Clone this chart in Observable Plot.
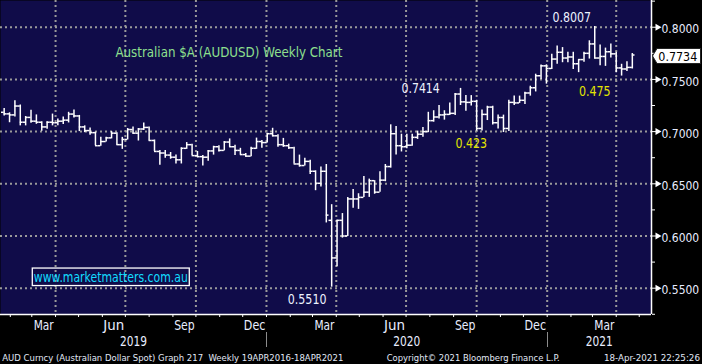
<!DOCTYPE html>
<html>
<head>
<meta charset="utf-8">
<script src="https://cdn.jsdelivr.net/npm/d3@7"></script>
<script src="https://cdn.jsdelivr.net/npm/@observablehq/plot@0.6"></script>
<style>
  html, body { margin: 0; padding: 0; background: #000; }
  #chart { width: 702px; height: 364px; overflow: hidden; }
  #chart svg { display: block; }
</style>
</head>
<body>
<div id="chart"></div>
<script>
// ---------- DATA (weekly OHLC, AUDUSD, week ending Friday) ----------
const firstWeekEnding = "2019-01-18";
const open = [
  0.7185,0.7170,0.7160,0.7245,0.7090,0.7136,0.7100,0.7090,0.7045,0.7090,
  0.7085,0.7100,0.7110,0.7168,0.7150,0.7045,0.7010,0.6990,0.6865,0.6905,
  0.6940,0.6985,0.6875,0.6925,0.7020,0.6985,0.7025,0.7040,0.6915,0.6810,
  0.6795,0.6775,0.6755,0.6730,0.6840,0.6875,0.6770,0.6760,0.6755,0.6815,
  0.6855,0.6820,0.6900,0.6855,0.6820,0.6780,0.6765,0.6840,0.6905,0.6895,
  0.6980,0.6960,0.6875,0.6865,0.6845,0.6690,0.6675,0.6715,0.6620,0.6505,
  0.6620,0.6150,0.5790,0.6150,0.6000,0.6355,0.6355,0.6370,0.6420,0.6530,
  0.6420,0.6535,0.6665,0.6980,0.6865,0.6855,0.6870,0.6945,0.6975,0.7000,
  0.7105,0.7140,0.7160,0.7165,0.7175,0.7360,0.7285,0.7280,0.7290,0.7030,
  0.7165,0.7235,0.7085,0.7135,0.7030,0.7280,0.7275,0.7300,0.7370,0.7420,
  0.7535,0.7630,0.7605,0.7695,0.7760,0.7705,0.7715,0.7650,0.7690,0.7750,
  0.7840,0.7705,0.7720,0.7765,0.7745,0.7610,0.7600,0.7615
];
const high = [
  0.7222,0.7180,0.7296,0.7255,0.7145,0.7205,0.7160,0.7095,0.7095,0.7168,
  0.7120,0.7140,0.7185,0.7206,0.7155,0.7055,0.7035,0.6995,0.6945,0.6945,
  0.7000,0.6990,0.6945,0.7030,0.7045,0.7030,0.7082,0.7045,0.6920,0.6820,
  0.6820,0.6800,0.6775,0.6845,0.6895,0.6880,0.6810,0.6770,0.6820,0.6860,
  0.6865,0.6905,0.6930,0.6870,0.6840,0.6790,0.6850,0.6938,0.6915,0.6985,
  0.7032,0.6970,0.6935,0.6880,0.6850,0.6775,0.6745,0.6725,0.6625,0.6660,
  0.6685,0.6300,0.6150,0.6215,0.6370,0.6445,0.6405,0.6570,0.6545,0.6530,
  0.6615,0.6685,0.7065,0.7050,0.6975,0.6975,0.6975,0.7005,0.7040,0.7185,
  0.7200,0.7250,0.7200,0.7275,0.7365,0.7414,0.7345,0.7345,0.7300,0.7208,
  0.7243,0.7243,0.7158,0.7158,0.7300,0.7340,0.7340,0.7377,0.7435,0.7550,
  0.7638,0.7640,0.7740,0.7820,0.7805,0.7760,0.7760,0.7690,0.7760,0.7870,
  0.8007,0.7830,0.7800,0.7840,0.7760,0.7645,0.7670,0.7748
];
const low = [
  0.7150,0.7085,0.7140,0.7055,0.7055,0.7080,0.7070,0.7003,0.7023,0.7055,
  0.7055,0.7068,0.7083,0.7130,0.7000,0.6990,0.6965,0.6865,0.6860,0.6900,
  0.6930,0.6870,0.6830,0.6920,0.6975,0.6910,0.7010,0.6910,0.6810,0.6677,
  0.6745,0.6735,0.6690,0.6690,0.6830,0.6770,0.6750,0.6671,0.6715,0.6775,
  0.6805,0.6815,0.6850,0.6770,0.6775,0.6755,0.6760,0.6830,0.6840,0.6890,
  0.6950,0.6850,0.6850,0.6830,0.6690,0.6660,0.6670,0.6590,0.6434,0.6470,
  0.6125,0.5510,0.5705,0.5980,0.5995,0.6265,0.6255,0.6370,0.6370,0.6400,
  0.6420,0.6520,0.6650,0.6775,0.6805,0.6835,0.6860,0.6925,0.6945,0.6990,
  0.7090,0.7120,0.7110,0.7155,0.7155,0.7250,0.7195,0.7245,0.7005,0.7005,
  0.7106,0.7063,0.7026,0.6991,0.7000,0.7250,0.7270,0.7260,0.7340,0.7380,
  0.7500,0.7455,0.7595,0.7645,0.7660,0.7660,0.7595,0.7565,0.7665,0.7695,
  0.7695,0.7630,0.7625,0.7705,0.7565,0.7532,0.7575,0.7600
];
const close = [
  0.7170,0.7160,0.7245,0.7090,0.7136,0.7100,0.7090,0.7045,0.7090,0.7085,
  0.7100,0.7110,0.7168,0.7150,0.7045,0.7010,0.6990,0.6865,0.6905,0.6940,
  0.6985,0.6875,0.6925,0.7020,0.6985,0.7025,0.7040,0.6915,0.6810,0.6795,
  0.6775,0.6755,0.6730,0.6840,0.6875,0.6770,0.6760,0.6755,0.6815,0.6855,
  0.6820,0.6900,0.6855,0.6820,0.6780,0.6765,0.6840,0.6905,0.6895,0.6980,
  0.6960,0.6875,0.6865,0.6845,0.6690,0.6675,0.6715,0.6620,0.6505,0.6620,
  0.6200,0.5790,0.6150,0.6000,0.6355,0.6355,0.6370,0.6420,0.6530,0.6420,
  0.6535,0.6665,0.6980,0.6865,0.6855,0.6870,0.6945,0.6975,0.7000,0.7105,
  0.7140,0.7160,0.7165,0.7175,0.7360,0.7285,0.7280,0.7290,0.7030,0.7165,
  0.7235,0.7085,0.7135,0.7030,0.7280,0.7275,0.7300,0.7370,0.7420,0.7535,
  0.7630,0.7605,0.7695,0.7760,0.7705,0.7715,0.7650,0.7690,0.7750,0.7840,
  0.7705,0.7720,0.7765,0.7745,0.7610,0.7600,0.7615,0.7734
];
const lastPrice = 0.7734;

const yTicks = [0.55, 0.60, 0.65, 0.70, 0.75, 0.80];
const yMinorTicks = [0.525, 0.575, 0.625, 0.675, 0.725, 0.775, 0.825];
const monthLabelIndex = [2, 5, 8, 11];   // Mar, Jun, Sep, Dec
const yearLabels = ["2019", "2020", "2021"];

const annotationTexts  = ["Australian $A (AUDUSD) Weekly Chart", "0.8007", "0.7414", "0.423", "0.475", "0.5510"];
const annotationDates  = ["2019-11-13", "2021-02-02", "2020-07-20", "2020-09-24", "2021-03-04", "2020-02-23"];
const annotationValues = [0.7761, 0.8096, 0.7410, 0.6883, 0.7387, 0.5389];
const annotationKinds  = ["title", "white", "white", "yellow", "yellow", "white"];
const websiteText = "www.marketmatters.com.au";
const websiteDate = "2019-06-12";
const websiteValue = 0.5602;

const footerLeft = "AUD Curncy (Australian Dollar Spot) Graph 217  Weekly 19APR2016-18APR2021";
const footerMid = "Copyright\u00A9 2021 Bloomberg Finance L.P.";
const footerRight = "18-Apr-2021 22:25:26";

// ---------- LAYOUT / STYLE ----------
const W = 702, H = 364;
const navy = "#100c49";
const gridColor = "#9a9a9a";
const labelColor = "#e8edff";
const FONT = '"Liberation Sans Narrow","Arial Narrow","DejaVu Sans Condensed","Liberation Sans",Arial,sans-serif';
const xDomain = [new Date("2019-01-19T05:00:00Z"), new Date("2021-05-17T00:00:00Z")];
const yDomain = [0.5248, 0.8256];
const barShiftDays = 6;
const tickHours = 84;
const kindColor = {title: "#8ee08e", white: "#eef2ff", yellow: "#e4e400"};

const weeks = close.map((_, i) => d3.utcDay.offset(new Date(firstWeekEnding + "T00:00:00Z"), 7 * i));
const bars = weeks.map((date, i) => ({date, open: open[i], high: high[i], low: low[i], close: close[i]}));
const barX = d => d3.utcDay.offset(d.date, barShiftDays);

const months = d3.utcMonths(xDomain[0], xDomain[1]);
const quarterStarts = months.filter(d => d.getUTCMonth() % 3 === 0);
const monthLabels = months.filter(d => monthLabelIndex.includes(d.getUTCMonth()))
  .map(d => ({date: new Date((+d + +d3.utcMonth.offset(d, 1)) / 2), text: d3.utcFormat("%b")(d)}));
const yearBounds = [xDomain[0], new Date("2020-01-01T00:00:00Z"), new Date("2021-01-01T00:00:00Z"), xDomain[1]];
const yearLabelData = yearLabels.map((t, i) => ({date: new Date((+yearBounds[i] + +yearBounds[i + 1]) / 2), text: t}));
const annotations = annotationTexts.map((t, i) => ({text: t, date: new Date(annotationDates[i] + "T00:00:00Z"), value: annotationValues[i], kind: annotationKinds[i]}));

const plot = Plot.plot({
  width: W, height: H,
  marginTop: 0, marginRight: 51, marginBottom: 50, marginLeft: 0,
  x: {type: "utc", domain: xDomain, axis: null},
  y: {domain: yDomain, axis: null},
  style: {background: "#000", color: labelColor, fontFamily: FONT, overflow: "visible"},
  marks: [
    Plot.frame({fill: navy, stroke: null}),
    Plot.ruleY(yTicks, {stroke: gridColor, strokeWidth: 2, strokeDasharray: "2,3"}),
    Plot.ruleX(quarterStarts, {stroke: gridColor, strokeWidth: 2, strokeDasharray: "2,3"}),
    // OHLC bars
    Plot.ruleX(bars, {x: barX, y1: "low", y2: "high", stroke: "white", strokeWidth: 1.5}),
    Plot.ruleY(bars, {y: "open", x1: d => d3.utcHour.offset(barX(d), -tickHours), x2: barX, stroke: "white", strokeWidth: 1.5}),
    Plot.ruleY(bars, {y: "close", x1: barX, x2: d => d3.utcHour.offset(barX(d), tickHours), stroke: "white", strokeWidth: 1.5}),
    // axis lines
    Plot.ruleY([yDomain[0]], {stroke: "white", strokeWidth: 1.5}),
    Plot.ruleX([xDomain[1]], {stroke: "white", strokeWidth: 1.5}),
    // right axis ticks
    Plot.axisY(yMinorTicks, {anchor: "right", tickSize: 3, tickFormat: () => "", stroke: "white", label: null}),
    Plot.axisY(yTicks, {anchor: "right", tickSize: 4, tickFormat: () => "", stroke: "white", label: null}),
    Plot.dot(yTicks, {y: d => d, frameAnchor: "right", dx: 6, symbol: "triangle", r: 2.6, rotate: 90, fill: "white", stroke: null}),
    Plot.text(yTicks, {y: d => d, text: d => d3.format(".4f")(d), frameAnchor: "right", dx: 10, dy: 2, textAnchor: "start", fontSize: 13, fill: labelColor}),
    // bottom axis
    Plot.axisX(months, {anchor: "bottom", tickSize: 3, tickFormat: () => "", stroke: "white", label: null}),
    Plot.text(monthLabels, {x: "date", text: "text", frameAnchor: "bottom", dy: 15, lineAnchor: "bottom", fontSize: 13.5, fill: labelColor}),
    Plot.text(yearLabelData, {x: "date", text: "text", frameAnchor: "bottom", dy: 31, lineAnchor: "bottom", fontSize: 14, fill: labelColor}),
    // annotations
    Plot.text(annotations, {x: "date", y: "value", text: "text", fontSize: 14, lineAnchor: "middle", fill: d => kindColor[d.kind]}),
    Plot.text([websiteText], {x: () => new Date(websiteDate + "T00:00:00Z"), y: () => websiteValue, text: d => d, fontSize: 14, lineAnchor: "middle", fill: "#12dcff"})
  ]
});

document.getElementById("chart").appendChild(plot);

// ---------- post-render decorations ----------
const svg = d3.select(plot);
const xs = plot.scale("x"), ys = plot.scale("y");

// year separators below axis
[yearBounds[1], yearBounds[2]].forEach(d => {
  const x = Math.round(xs.apply(d)) + 0.5;
  svg.append("line").attr("x1", x).attr("x2", x).attr("y1", 332).attr("y2", 347)
    .attr("stroke", "#8c8c8c").attr("stroke-width", 1);
});

// footer
const footer = svg.append("g").attr("font-family", FONT).attr("font-size", 9.5).attr("fill", "#e2e8f6")
  .attr("text-anchor", "start").style("white-space", "pre");
footer.append("text").attr("x", 2.3).attr("y", 360.5).text(footerLeft);
footer.append("text").attr("x", 386.7).attr("y", 360.5).text(footerMid);
footer.append("text").attr("x", 604).attr("y", 360.5).text(footerRight);

// last-price tag
const ty = ys.apply(lastPrice) + 1.5;
const tag = svg.append("g");
tag.append("path")
  .attr("d", `M652.5,${ty} L657,${ty - 7.5} L700.5,${ty - 7.5} L700.5,${ty + 7.5} L657,${ty + 7.5} Z`)
  .attr("fill", "white").attr("stroke", "#222").attr("stroke-width", 1);
tag.append("text").attr("x", 658.3).attr("y", ty + 5).attr("font-family", FONT).attr("font-size", 13)
  .attr("text-anchor", "start").attr("fill", "#000").text(d3.format(".4f")(lastPrice));

// width fitting (matches the reference's condensed terminal font)
const widths = {
  "Australian $A (AUDUSD) Weekly Chart": 227, "0.8007": 38.7, "0.7414": 38.3, "0.423": 31.7, "0.475": 31.7,
  "0.5510": 38.7, "www.marketmatters.com.au": 154, "0.7734": 39,
  "0.8000": 37.7, "0.7500": 37.7, "0.7000": 37.7, "0.6500": 37.7, "0.6000": 37.7, "0.5500": 37.7,
  "Mar": 20, "Jun": 21, "Sep": 20.5, "Dec": 21.5, "2019": 27, "2020": 27, "2021": 27
};
widths[footerLeft] = 341; widths[footerMid] = 173; widths[footerRight] = 96;
svg.selectAll("text").each(function () {
  const w = widths[this.textContent];
  if (w) { this.setAttribute("textLength", w); this.setAttribute("lengthAdjust", "spacingAndGlyphs"); }
});

// website box
const svgRect = plot.getBoundingClientRect();
svg.selectAll("text").filter(function () { return this.textContent === websiteText; }).each(function () {
  const r = this.getBoundingClientRect();
  const cx = (r.left + r.right) / 2 - svgRect.left;
  const cy = ys.apply(websiteValue);
  svg.append("rect").attr("x", cx - 78.5).attr("y", cy - 9).attr("width", 157).attr("height", 17.5)
    .attr("fill", "none").attr("stroke", "white").attr("stroke-width", 1.3);
});
</script>
</body>
</html>
